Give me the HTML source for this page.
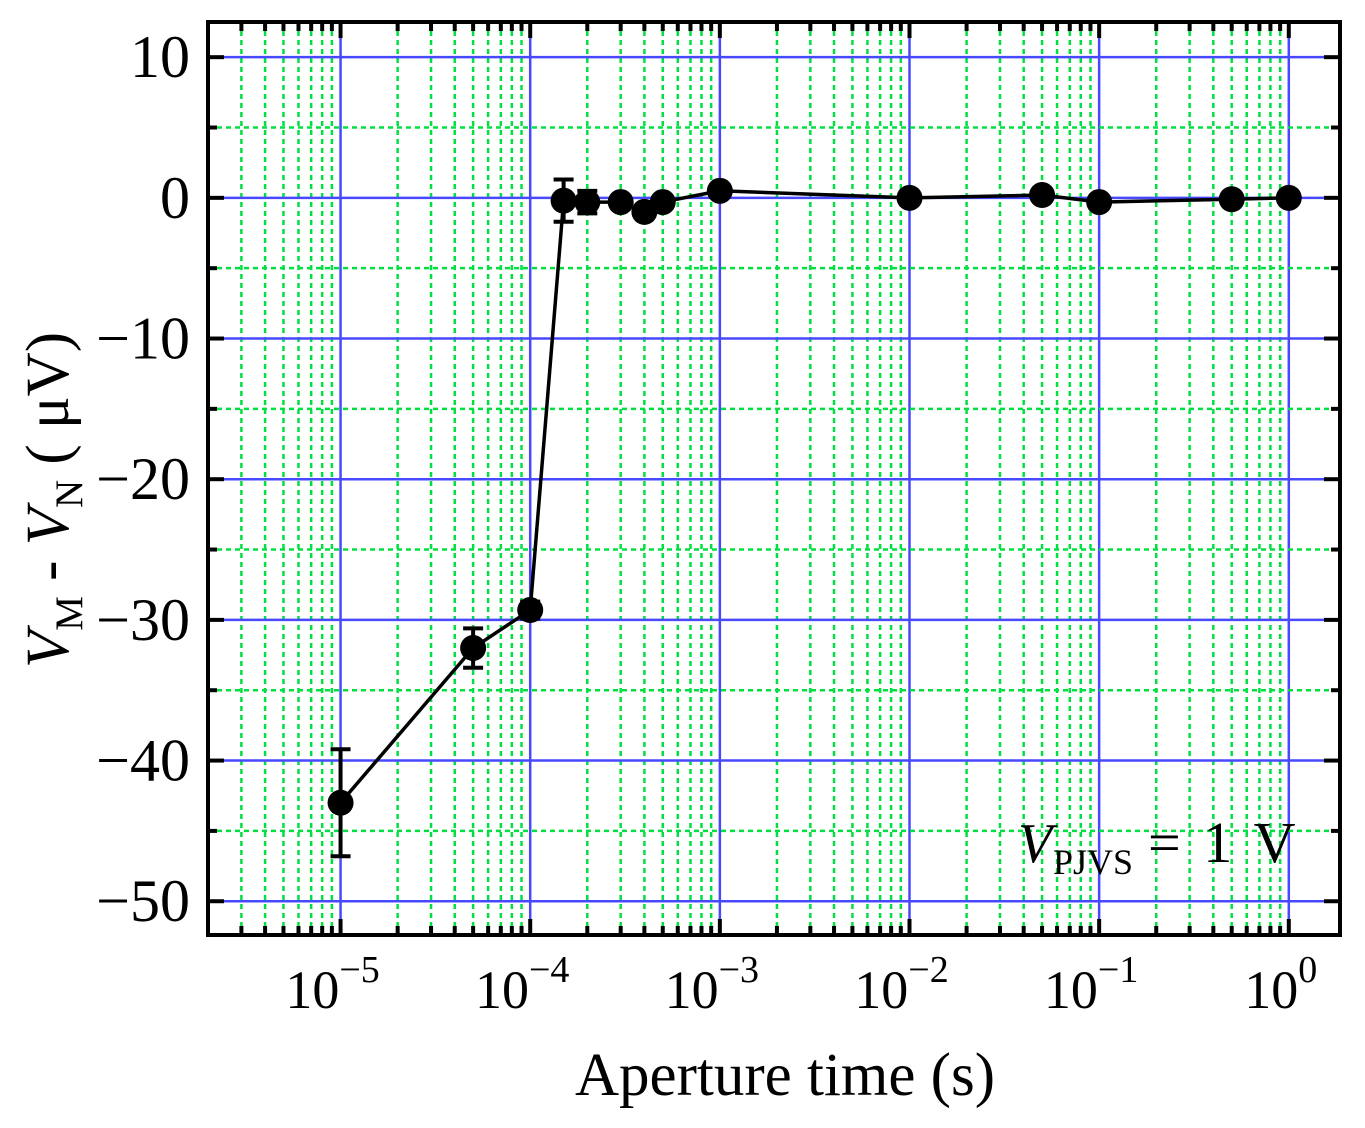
<!DOCTYPE html>
<html><head><meta charset="utf-8"><style>
body{margin:0;background:#fff;}
svg{display:block;font-family:"Liberation Serif",serif;}
</style></head><body>
<svg id="chart" width="1365" height="1128">
<g id="grid"></g>
<g id="axes"></g>
<g id="series"></g>
<text x="1018" y="862" font-size="56" font-style="italic">V</text>
<text x="1053" y="874" font-size="36">PJVS</text>
<text x="1148" y="862" font-size="58" word-spacing="8">= 1 V</text>
<text x="785" y="1095" font-size="61" text-anchor="middle">Aperture time (s)</text>
<g transform="translate(68,500) rotate(-90)">
<text x="0" y="0" font-size="61" text-anchor="middle"><tspan font-style="italic">V</tspan><tspan font-size="39" dy="14">M</tspan><tspan dy="-14"> - </tspan><tspan font-style="italic">V</tspan><tspan font-size="39" dy="14">N</tspan><tspan dy="-14"> ( μV)</tspan></text>
</g>
</svg>
<script>
const xVals=[1e-5,5e-5,1e-4,1.5e-4,2e-4,3e-4,4e-4,5e-4,1e-3,1e-2,5e-2,1e-1,5e-1,1];
const yVals=[-43,-32,-29.3,-0.2,-0.3,-0.3,-1,-0.3,0.5,0,0.2,-0.3,-0.1,0];
const yErr=[3.8,1.4,0.6,1.5,0.8,0,0,0,0,0,0,0,0,0];
const yTicks=[10,0,-10,-20,-30,-40,-50];
const xTickExps=[-5,-4,-3,-2,-1,0];
const L=208,R=1340,T=22,B=935;
const lxMin=Math.log10(2e-6),lxMax=0.27,yMin=-52.4,yMax=12.5;
const X=v=>L+(Math.log10(v)-lxMin)/(lxMax-lxMin)*(R-L);
const Y=v=>B-(v-yMin)/(yMax-yMin)*(B-T);
const NS="http://www.w3.org/2000/svg";
function mk(p,t,a){const e=document.createElementNS(NS,t);for(const k in a)e.setAttribute(k,a[k]);p.appendChild(e);return e;}
const grid=document.getElementById('grid'),axes=document.getElementById('axes'),ser=document.getElementById('series');
for(let d=-6;d<=0;d++)for(let m=1;m<=9;m++){const v=m*Math.pow(10,d);const x=X(v);if(x<L+2||x>R-2)continue;
 if(m===1){const l=mk(grid,'line',{x1:x,x2:x,y1:T,y2:B,stroke:'#4848ff','stroke-width':2.5});
  mk(axes,'line',{x1:x,x2:x,y1:B,y2:B-16,stroke:'#000','stroke-width':4});mk(axes,'line',{x1:x,x2:x,y1:T,y2:T+16,stroke:'#000','stroke-width':4});}
 else{const l=mk(grid,'line',{x1:x,x2:x,y1:T,y2:B,stroke:'#00e040','stroke-width':2.5,'stroke-dasharray':'5,4'});
  mk(axes,'line',{x1:x,x2:x,y1:B,y2:B-9,stroke:'#000','stroke-width':4});mk(axes,'line',{x1:x,x2:x,y1:T,y2:T+9,stroke:'#000','stroke-width':4});}}
for(let v=-50;v<=10;v+=5){const y=Y(v);const major=v%10===0;
 const l=mk(grid,'line',{x1:L,x2:R,y1:y,y2:y,stroke:major?'#4848ff':'#00e040','stroke-width':2.5,'stroke-dasharray':major?'none':'5,4'});
 
 const len=major?16:9;mk(axes,'line',{x1:L,x2:L+len,y1:y,y2:y,stroke:'#000','stroke-width':4});mk(axes,'line',{x1:R,x2:R-len,y1:y,y2:y,stroke:'#000','stroke-width':4});}
const fr=mk(axes,'rect',{x:L,y:T,width:R-L,height:B-T,fill:'none',stroke:'#000','stroke-width':4});

yTicks.forEach(v=>{const t=mk(axes,'text',{x:190,y:Y(v)+20,'font-size':60,'text-anchor':'end'});t.textContent=(v<0?'\u2212'+(-v):v);
 });
xTickExps.forEach(e=>{const x=X(Math.pow(10,e));const t=mk(axes,'text',{x:x-8,y:1008,'font-size':54,'text-anchor':'middle'});
 t.innerHTML='10<tspan font-size="38" dy="-26">'+(e<0?'\u2212'+(-e):e)+'</tspan>';
 });
const pl=mk(ser,'polyline',{points:xVals.map((v,i)=>X(v)+','+Y(yVals[i])).join(' '),fill:'none',stroke:'#000','stroke-width':3.5});

xVals.forEach((v,i)=>{const x=X(v);if(yErr[i]>0){const y1=Y(yVals[i]+yErr[i]),y2=Y(yVals[i]-yErr[i]);
 const g=mk(ser,'g',{stroke:'#000','stroke-width':4});
 mk(g,'line',{x1:x,x2:x,y1:y1,y2:y2});mk(g,'line',{x1:x-10,x2:x+10,y1:y1,y2:y1});mk(g,'line',{x1:x-10,x2:x+10,y1:y2,y2:y2});}
 const c=mk(ser,'circle',{cx:x,cy:Y(yVals[i]),r:13,fill:'#000'});});
</script>
</body></html>
